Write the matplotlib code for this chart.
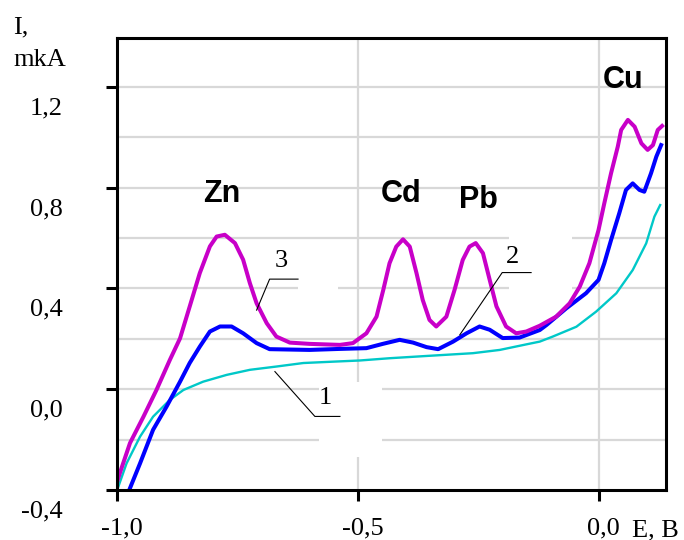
"""
Stripping voltammogram: Zn, Cd, Pb, Cu peaks (curves 1-3).
"""
import matplotlib
matplotlib.use("Agg")
import matplotlib.pyplot as plt
from matplotlib.patches import Rectangle

# curve 1 - background (cyan)
e1 = [-0.997, -0.980, -0.952, -0.925, -0.890, -0.862, -0.821, -0.772, -0.724,
      -0.669, -0.613, -0.544, -0.496, -0.434, -0.357, -0.261, -0.205, -0.150,
      -0.122, -0.095, -0.046, -0.005, 0.037, 0.071, 0.099, 0.116, 0.128]
i1 = [-0.386, -0.294, -0.188, -0.109, -0.042, -0.003, 0.030, 0.057, 0.077,
      0.090, 0.104, 0.110, 0.114, 0.123, 0.132, 0.143, 0.156, 0.178,
      0.189, 0.209, 0.248, 0.308, 0.381, 0.473, 0.579, 0.685, 0.731]

# curve 2 - blue
e2 = [-0.973, -0.952, -0.925, -0.897, -0.869, -0.849, -0.828, -0.807, -0.786,
      -0.762, -0.738, -0.710, -0.683, -0.600, -0.537, -0.482, -0.448, -0.413,
      -0.385, -0.357, -0.333, -0.302, -0.274, -0.247, -0.226, -0.199, -0.164,
      -0.122, -0.108, -0.067, -0.026, 0.000, 0.012, 0.026, 0.043, 0.057,
      0.071, 0.085, 0.095, 0.109, 0.120, 0.130]
i2 = [-0.393, -0.294, -0.161, -0.069, 0.030, 0.104, 0.169, 0.229, 0.249,
      0.249, 0.222, 0.183, 0.159, 0.156, 0.160, 0.163, 0.180, 0.196,
      0.185, 0.167, 0.159, 0.189, 0.222, 0.249, 0.236, 0.203, 0.205,
      0.235, 0.255, 0.321, 0.381, 0.434, 0.500, 0.592, 0.698, 0.791,
      0.817, 0.791, 0.784, 0.857, 0.923, 0.969]

# curve 3 - magenta
e3 = [-1.000, -0.994, -0.973, -0.945, -0.918, -0.890, -0.869, -0.849, -0.828,
      -0.807, -0.793, -0.776, -0.755, -0.738, -0.724, -0.710, -0.689, -0.669,
      -0.641, -0.600, -0.537, -0.510, -0.482, -0.461, -0.447, -0.434, -0.420,
      -0.406, -0.392, -0.378, -0.365, -0.351, -0.337, -0.316, -0.299, -0.282,
      -0.268, -0.255, -0.240, -0.226, -0.212, -0.192, -0.171, -0.150, -0.122,
      -0.088, -0.060, -0.039, -0.019, 0.000, 0.012, 0.026, 0.040, 0.047,
      0.061, 0.075, 0.089, 0.102, 0.113, 0.123, 0.132]
i3 = [-0.370, -0.333, -0.214, -0.109, -0.003, 0.117, 0.202, 0.328, 0.461,
      0.567, 0.606, 0.613, 0.580, 0.514, 0.421, 0.341, 0.262, 0.209,
      0.185, 0.180, 0.176, 0.183, 0.222, 0.288, 0.394, 0.500, 0.566,
      0.595, 0.566, 0.461, 0.354, 0.275, 0.249, 0.288, 0.394, 0.513,
      0.566, 0.580, 0.540, 0.434, 0.329, 0.249, 0.222, 0.229, 0.252,
      0.288, 0.341, 0.407, 0.500, 0.632, 0.738, 0.857, 0.963, 1.029,
      1.069, 1.042, 0.976, 0.950, 0.969, 1.029, 1.045]

# peak labels
peak_names = ["Zn", "Cd", "Pb", "Cu"]
peak_x = [-0.782, -0.409, -0.250, 0.050]
peak_y = [0.776, 0.776, 0.750, 1.226]

# curve number callouts: label pos and leader polyline
num_labels = ["1", "2", "3"]
num_text_xy = [(-0.568, -0.035), (-0.178, 0.526), (-0.658, 0.507)]
num_line_x = [[-0.537, -0.589, -0.672], [-0.140, -0.200, -0.288], [-0.624, -0.683, -0.710]]
num_line_y = [[-0.108, -0.108, 0.070], [0.463, 0.463, 0.216], [0.437, 0.437, 0.314]]
# white areas behind the callout numbers (they cut the grid in the original)
num_boxes = [(-0.580, -0.270, 0.130, 0.300), (-0.185, 0.350, 0.130, 0.300),
             (-0.625, 0.380, 0.085, 0.200)]

xticks = [-1.0, -0.5, 0.0]
xtick_labels = ["-1,0", "-0,5", "0,0"]
yticks = [-0.4, 0.0, 0.4, 0.8, 1.2]
ytick_labels = ["-0,4", "0,0", "0,4", "0,8", "1,2"]
ygrid = [-0.2, 0.0, 0.2, 0.4, 0.6, 0.8, 1.0, 1.2]

serif = "Liberation Serif"
sans = "Liberation Sans"

fig = plt.figure(figsize=(6.84, 5.40), dpi=100)
ax = fig.add_axes([0.171, 0.0926, 0.8026, 0.837])

ax.set_xlim(-1.0, 0.140)
ax.set_ylim(-0.4, 1.394)

# grid
for g in ygrid:
    ax.axhline(g, color="#d8d8d8", lw=1.6, zorder=0)
for g in [-0.5, 0.0]:
    ax.axvline(g, color="#d8d8d8", lw=1.6, zorder=0)
for bx, by, bw, bh in num_boxes:
    ax.add_patch(Rectangle((bx, by), bw, bh, facecolor="white",
                           edgecolor="none", zorder=1))

ax.plot(e1, i1, color="#00c8c8", lw=1.7, zorder=3)
ax.plot(e2, i2, color="#0000ff", lw=2.9, zorder=4)
ax.plot(e3, i3, color="#c800c8", lw=2.9, zorder=5)

for name, x, y in zip(peak_names, peak_x, peak_y):
    ax.text(x, y, name, family=sans, fontweight="bold", fontsize=22,
            ha="center", va="center")

for lab, (tx, ty), lx, ly in zip(num_labels, num_text_xy, num_line_x, num_line_y):
    ax.plot(lx, ly, color="black", lw=0.8, zorder=6)
    ax.text(tx, ty, lab, family=serif, fontsize=19, ha="center", va="center")

# spines and ticks
for s in ax.spines.values():
    s.set_linewidth(2.2)
    s.set_zorder(7)
ax.set_xticks(xticks)
ax.set_yticks(yticks)
ax.set_xticklabels([])
ax.set_yticklabels([])
ax.tick_params(direction="out", length=8, width=2.2)

# tick labels sit a bit below their ticks, as in the original scan
for v, lab in zip(yticks, ytick_labels):
    ax.text(-0.099, v - 0.085, lab, transform=ax.get_yaxis_transform(),
            family=serif, fontsize=19, ha="right", va="center")
for v, lab in zip(xticks, xtick_labels):
    ax.text(v + 0.01, -0.085, lab, transform=ax.get_xaxis_transform(),
            family=serif, fontsize=19, ha="center", va="center")

fig.text(0.924, 0.018, "E, B", family=serif, fontsize=19, ha="left", va="center")
fig.text(0.019, 0.950, "I,", family=serif, fontsize=19, ha="left", va="center")
fig.text(0.019, 0.889, "mkA", family=serif, fontsize=19, ha="left", va="center")

fig.savefig("out.png", dpi=100)
